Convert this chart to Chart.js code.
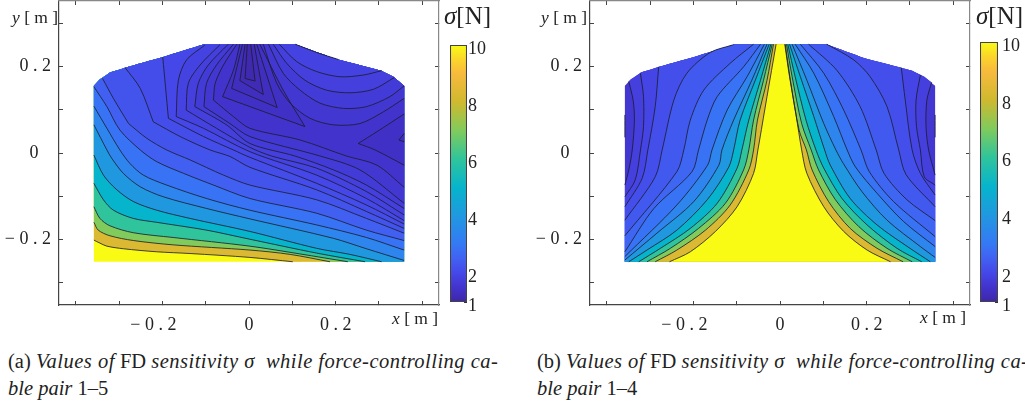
<!DOCTYPE html>
<html><head><meta charset="utf-8">
<script src="https://cdn.jsdelivr.net/npm/chart.js@4/dist/chart.umd.min.js"></script>
<style>
html,body{margin:0;padding:0;background:#fff;width:1025px;height:403px;overflow:hidden}
canvas{position:absolute}
.t{position:absolute;white-space:pre;font-family:"Liberation Serif",serif;color:#222;line-height:1}
.c{position:absolute;white-space:pre;font-family:"Liberation Serif",serif;color:#222;font-size:20.5px;line-height:1}
i{font-style:italic}
i.w{letter-spacing:.48px}
</style></head><body>
<canvas id="mapA" style="left:0;top:0"></canvas>
<canvas id="mapB" style="left:530px;top:0"></canvas>
<canvas id="barA" style="left:440px;top:30px"></canvas>
<canvas id="barB" style="left:970px;top:30px"></canvas>
<div class="t" style="left:12px;top:9px;font-size:17.5px"><i>y</i> [ m ]</div>
<div class="t" style="left:392px;top:310px;font-size:17.5px"><i>x</i> [ m ]</div>
<div class="t" style="left:444px;top:3px;font-size:25px"><i>σ</i>[N]</div>
<div class="t" style="left:541px;top:9px;font-size:17.5px"><i>y</i> [ m ]</div>
<div class="t" style="left:920px;top:309px;font-size:17.5px"><i>x</i> [ m ]</div>
<div class="t" style="left:976px;top:3px;font-size:25px"><i>σ</i>[N]</div>
<div class="c" style="left:8px;top:351px">(a) <i class="w">Values of</i> FD <i class="w">sensitivity σ  while force-controlling ca-</i></div>
<div class="c" style="left:8px;top:378px"><i>ble pair</i> 1–5</div>
<div class="c" style="left:537px;top:351px">(b) <i class="w">Values of</i> FD <i class="w">sensitivity σ  while force-controlling ca-</i></div>
<div class="c" style="left:537px;top:378px"><i>ble pair</i> 1–4</div>
<script>
// Tick positions and labels (metres, newton)
const tickValues=[-0.2,0,0.2];
const xTickLabels=['− 0 . 2\u2003','0','0 . 2'];
const yTickLabels=['− 0 . 2','0\u2002\u2009','0 . 2'];
const colorTicks=[1,2,4,6,8,10];
// Parula colour map sampled at sensitivity values
const cmapValues=[1,1.5,2,2.5,3,4,5,6,7,8,9,9.5,10];
const cmapColors=['#3e26a8','#4233cc','#4547e8','#4160f2','#3578f5','#2098e0','#06b4cc','#2fc49c','#80cb5c','#cfb92e','#f8ba3c','#fbd62a','#f9fb15'];
// Workspace outline [x,y] in mm
const workspace=[[-358,-251],[358,-251],[358,155],[333,176],[305,190],[197,218],[107,251],[-104,251],[-200,221],[-286,197],[-321,186],[-344,170],[-358,155]];

// Panel (a) iso-lines, mm (a repeated point is a sharp corner)
const a1=[[-358,-201],[-344,-208],[-328,-215],[-290,-221],[-213,-228],[-136,-232],[2,-241],[101,-251]];
const a2=[[-358,-160],[-348,-178],[-321,-191],[-267,-202],[-175,-212],[2,-224],[95,-234],[187,-251]];
const a3=[[-358,-124],[-344,-151],[-321,-168],[-267,-184],[-175,-195],[2,-215],[118,-233],[228,-251]];
const a4=[[-358,-70],[-336,-108],[-313,-132],[-267,-151],[-213,-160],[-98,-178],[2,-199],[156,-231],[268,-251]];
const a5=[[-358,-5],[-336,-51],[-305,-85],[-267,-112],[-213,-132],[-136,-151],[2,-181],[156,-220],[233,-234],[306,-251]];
const a6=[[-358,65],[-328,7],[-317,-12],[-290,-47],[-251,-78],[-198,-101],[-98,-128],[2,-152],[195,-197],[271,-221],[358,-248]];
const a7=[[-358,108],[-328,57],[-298,7],[-275,-24],[-244,-51],[-190,-74],[-98,-105],[2,-132],[156,-166],[271,-195],[358,-224]];
const a8=[[-358,153],[-328,107],[-298,53],[-251,7],[-213,-20],[-151,-47],[-82,-74],[2,-105],[156,-139],[271,-178],[358,-202]];
const a9=[[-338,172],[-313,126],[-278,68],[-278,68],[-236,34],[-190,7],[-136,-16],[-59,-51],[2,-74],[156,-108],[271,-151],[358,-185]];
const a10=[[-286,197],[-251,149],[-221,72],[-221,72],[-159,38],[-90,7],[-44,-8],[2,-33],[156,-85],[271,-135],[358,-174]];
const a11=[[-199,221],[-186,80],[-186,80],[-105,38],[-36,7],[2,-10],[156,-70],[271,-120],[358,-164]];
const a12=[[-102,249],[-144,215],[-163,168],[-168,84],[-168,84],[-105,57],[2,3],[156,-51],[271,-105],[358,-156]];
const a13=[[-67,250],[-113,203],[-140,161],[-145,99],[-145,99],[-75,57],[2,13],[52,-7],[156,-35],[271,-89],[358,-143]];
const a14=[[-48,251],[-94,203],[-117,161],[-125,107],[-125,107],[-52,65],[2,22],[106,-7],[195,-39],[271,-74],[358,-128]];
const a15=[[-36,251],[-75,203],[-98,161],[-104,107],[-104,107],[-44,68],[2,38],[164,-7],[256,-39],[358,-116]];
const a16=[[-28,251],[-59,203],[-78,161],[-82,122],[-82,122],[-36,84],[2,57],[118,30],[225,-7],[295,-28],[358,-79]];
const aArc0=[[107,251],[156,232],[206,216]];
const aArc1=[[70,251],[110,211],[156,188],[210,176],[264,180],[306,190]];
const aArc2=[[56,251],[87,207],[129,168],[179,145],[233,139],[287,147],[335,174]];
const aArc3=[[45,251],[79,184],[118,145],[164,115],[218,103],[271,107],[325,130],[358,155]];
const aArc4=[[33,251],[64,161],[95,115],[141,80],[195,65],[256,68],[310,95],[358,126]];
const aWedge4=[[-21,251],[-36,191],[-61,130],[-61,130],[129,61],[129,61],[79,145],[25,251]];
const aWedge3=[[-15,251],[-40,149],[-40,149],[65,105],[65,105],[18,251]];
const aWedge2=[[-9,251],[-21,167],[-21,167],[33,135],[33,135],[12,251]];
const aWedge1=[[-4,251],[-9,172],[-9,172],[14,166],[14,166],[4,251]];
const aTrough1=[[358,90],[295,49],[252,22],[252,22],[291,7],[358,-28]];
const aTrough2=[[358,45],[346,30],[346,30],[358,26]];
const aFillValues=[8.3,7,6,5,4,3.4,2.9,2.5,2.25,2.1,2,1.9,1.8,1.7,1.6,1.5,1.4,1.3,1.2,1.1,1.4,1.3];

// Panel (b) iso-lines, mm: left and right branch of each level
const bL1=[[-349,165],[-339,122],[-336,76],[-341,7],[-349,-39],[-358,-74]];
const bL2=[[-322,184],[-315,130],[-315,61],[-322,7],[-334,-62],[-358,-101]];
const bL3=[[-280,199],[-288,107],[-305,7],[-318,-58],[-358,-124]];
const bL4=[[-107,250],[-161,232],[-215,184],[-245,122],[-272,7],[-288,-55],[-358,-155]];
const bL5=[[-61,251],[-115,207],[-176,145],[-207,76],[-222,7],[-238,-43],[-358,-191]];
const bL6=[[-45,251],[-84,199],[-145,130],[-168,76],[-188,7],[-203,-43],[-291,-128],[-358,-228]];
const bL7=[[-36,251],[-76,176],[-122,99],[-157,7],[-167,-28],[-238,-120],[-358,-239]];
const bL8=[[-30,251],[-65,168],[-107,76],[-134,7],[-141,-28],[-199,-112],[-284,-185],[-358,-247]];
const bL9=[[-25,251],[-57,168],[-92,76],[-107,7],[-118,-32],[-168,-108],[-238,-178],[-307,-224],[-349,-251]];
const bL10=[[-21,251],[-45,168],[-72,76],[-88,7],[-99,-35],[-145,-116],[-207,-174],[-276,-220],[-326,-251]];
const bL11=[[-18,251],[-38,168],[-61,76],[-72,7],[-84,-39],[-126,-116],[-188,-174],[-253,-220],[-307,-251]];
const bL12=[[-15,251],[-30,168],[-52,76],[-61,7],[-72,-39],[-115,-120],[-172,-178],[-238,-224],[-288,-251]];
const bL13=[[-9,251],[-30,130],[-47,30],[-51,7],[-61,-47],[-99,-124],[-149,-181],[-207,-228],[-255,-251]];
const bR1=[[350,163],[339,122],[337,61],[343,7],[358,-51]];
const bR2=[[324,180],[314,122],[315,61],[324,7],[333,-55],[358,-74]];
const bR3=[[280,197],[289,122],[305,7],[324,-47],[358,-97]];
const bR4=[[108,251],[170,215],[208,176],[247,107],[274,7],[291,-50],[358,-124]];
const bR5=[[66,251],[131,191],[185,107],[222,7],[240,-47],[293,-108],[358,-156]];
const bR6=[[47,251],[101,184],[147,99],[187,7],[206,-43],[262,-112],[358,-193]];
const bR7=[[35,251],[78,184],[124,84],[155,7],[174,-32],[224,-93],[285,-158],[358,-216]];
const bR8=[[28,251],[62,168],[101,68],[129,7],[146,-24],[189,-89],[247,-155],[324,-216],[358,-241]];
const bR9=[[22,251],[47,176],[78,84],[103,7],[116,-28],[162,-105],[224,-166],[300,-220],[347,-251]];
const bR10=[[18,251],[35,176],[60,76],[83,7],[101,-35],[143,-105],[201,-166],[270,-220],[327,-251]];
const bR11=[[15,251],[28,176],[50,68],[72,7],[89,-39],[128,-108],[182,-170],[247,-220],[305,-251]];
const bR12=[[12,251],[24,168],[44,53],[61,7],[74,-39],[112,-112],[162,-174],[224,-220],[284,-251]];
const bR13=[[11,251],[22,176],[37,88],[50,7],[62,-47],[101,-124],[147,-181],[201,-224],[255,-251]];
const bEdgeL=[[-358,88],[-358,36]];
const bEdgeR=[[358,88],[358,36]];
const bFillValues=[1.8,1.95,2.15,2.35,2.6,2.9,3.4,4,5,6,7,8.3,10];

const hex=c=>[1,3,5].map(i=>parseInt(c.substr(i,2),16));
function colorOf(v){
  let i=0;while(i<cmapValues.length-2&&v>cmapValues[i+1])i++;
  const t=(v-cmapValues[i])/(cmapValues[i+1]-cmapValues[i]);
  const a=hex(cmapColors[i]),b=hex(cmapColors[i+1]);
  return 'rgb('+a.map((x,k)=>Math.round(x+(b[k]-x)*t)).join(',')+')';
}
// Position of a point along the workspace outline
function perim(p){
  const n=workspace.length;let best=1e12,s=0;
  for(let i=0;i<n;i++){
    const a=workspace[i],b=workspace[(i+1)%n],dx=b[0]-a[0],dy=b[1]-a[1];
    let t=((p[0]-a[0])*dx+(p[1]-a[1])*dy)/(dx*dx+dy*dy);t=Math.max(0,Math.min(1,t));
    const d=Math.hypot(a[0]+t*dx-p[0],a[1]+t*dy-p[1]);
    if(d<best){best=d;s=i+t}
  }
  return s;
}
function walk(p,q){
  const n=workspace.length,sa=perim(p);let sb=perim(q);if(sb<sa)sb+=n;
  const out=[];for(let i=Math.floor(sa)+1;i<sb;i++)out.push(workspace[i%n],workspace[i%n]);
  return out;
}
// A region: iso-lines joined around the outline; repeated vertices keep the outline straight
function region(lines){
  let pts=[];
  lines.forEach((l,i)=>{
    const nx=lines[(i+1)%lines.length],last=l[l.length-1];
    pts=pts.concat([l[0]],l,[last],walk(last,nx[0]));
  });
  return pts.concat([pts[0]]);
}
const rev=l=>l.slice().reverse();
const toXY=pts=>pts.map(p=>({x:p[0]/1000,y:p[1]/1000}));
const curve=0.3;
function fillSet(pts,v){return {type:'scatter',showLine:true,data:toXY(pts),fill:'shape',backgroundColor:colorOf(v),borderWidth:0,pointRadius:0,tension:curve}}
function lineSet(pts){return {type:'scatter',showLine:true,data:toXY(pts),fill:false,borderColor:'rgba(28,28,45,.82)',borderWidth:1,pointRadius:0,tension:curve}}

function frameScales(w,padL,padR){
  const lim={xMin:-0.4385,xMax:0.4385,yMin:-0.3508,yMax:0.3508};
  const font={family:'"Liberation Serif",serif',size:18};
  const findLabel=(v,arr)=>{const i=tickValues.findIndex(t=>Math.abs(t-v)<1e-6);return i<0?'':arr[i]};
  const grid={drawOnChartArea:false,drawTicks:true,tickLength:-4,tickColor:'#444',tickWidth:1};
  const fit=(prop,size)=>s=>{s[prop]=size;s.paddingLeft=s.paddingRight=s.paddingTop=s.paddingBottom=0};
  const base={type:'linear',grid};
  return {
    x:{...base,position:'bottom',min:lim.xMin,max:lim.xMax,afterFit:fit('height',35),border:{color:'#444',width:1.2},
       ticks:{stepSize:.1,includeBounds:false,autoSkip:false,maxRotation:0,padding:13,color:'#222',font,callback:v=>findLabel(v,xTickLabels)}},
    y:{...base,position:'left',min:lim.yMin,max:lim.yMax,afterFit:fit('width',padL),border:{color:'#444',width:1.2},
       ticks:{stepSize:.1,includeBounds:false,autoSkip:false,padding:12,color:'#222',font,callback:v=>findLabel(v,yTickLabels)}},
    xt:{...base,axis:'x',position:'top',min:lim.xMin,max:lim.xMax,afterFit:fit('height',1),border:{color:'#888',width:1.2},
       ticks:{stepSize:.1,includeBounds:false,autoSkip:false,display:false}},
    yr:{...base,axis:'y',position:'right',min:lim.yMin,max:lim.yMax,afterFit:fit('width',padR),border:{color:'#888',width:1.2},
       ticks:{stepSize:.1,includeBounds:false,autoSkip:false,display:false}}
  };
}
function mapChart(id,sets,w,padL,padR){
  const c=document.getElementById(id);c.width=w;c.height=340;
  sets.forEach((d,i)=>{d.order=sets.length-i});
  return new Chart(c,{type:'scatter',data:{datasets:sets},options:{
    responsive:false,animation:false,events:[],
    layout:{padding:0},
    plugins:{legend:{display:false},tooltip:{enabled:false}},
    scales:frameScales(w,padL,padR)}});
}
function barChart(id,w,h,padL,padR,padT,padB,labelGap){
  const c=document.getElementById(id);c.width=w;c.height=h;
  return new Chart(c,{type:'bar',data:{labels:['σ'],datasets:[{data:[[colorTicks[0],colorTicks[colorTicks.length-1]]],
    barPercentage:1,categoryPercentage:1,borderWidth:1.4,borderColor:'#444',borderSkipped:false,
    backgroundColor:ctx=>{
      const ch=ctx.chart,s=ch.scales.y;
      const y0=s?s.getPixelForValue(1):NaN,y1=s?s.getPixelForValue(10):NaN;
      if(!Number.isFinite(y0)||!Number.isFinite(y1))return cmapColors[0];
      const g=ch.ctx.createLinearGradient(0,y0,0,y1);
      cmapValues.forEach((v,i)=>g.addColorStop((v-1)/9,cmapColors[i]));return g}}]},
    options:{responsive:false,animation:false,events:[],
      layout:{padding:{left:padL,right:0,top:padT,bottom:padB}},
      plugins:{legend:{display:false},tooltip:{enabled:false}},
      scales:{
        x:{display:false},
        y:{position:'right',min:1,max:10,
           afterFit:s=>{s.width=padR;s.paddingTop=s.paddingBottom=0},
           afterBuildTicks:s=>{s.ticks=colorTicks.map(v=>({value:v}))},
           border:{display:false},
           grid:{drawOnChartArea:false,drawTicks:true,tickLength:-3,tickColor:'#333'},
           ticks:{padding:labelGap,labelOffset:4,autoSkip:false,color:'#222',font:{family:'"Liberation Serif",serif',size:18},callback:v=>String(v)}}
      }}});
}

const aLevels=[[a1],[a2],[a3],[a4],[a5],[a6],[a7],[a8],[a9],[a10],[a11],[a12,rev(aArc0)],[a13,rev(aArc1)],[a14,rev(aArc2)],[a15,rev(aArc3)],[a16,rev(aArc4)],[aWedge4],[aWedge3],[aWedge2],[aWedge1],[aTrough1],[aTrough2]];
const aLines=[a1,a2,a3,a4,a5,a6,a7,a8,a9,a10,a11,a12,a13,a14,a15,a16,aArc0,aArc1,aArc2,aArc3,aArc4,aWedge4,aWedge3,aWedge2,aWedge1,aTrough1,aTrough2];
const outline=[...workspace.flatMap(p=>[p,p]),workspace[0]];
const aSets=[fillSet(outline,10)]
  .concat(aLevels.map((l,i)=>fillSet(region(l),aFillValues[i])),aLines.map(lineSet));
mapChart('mapA',aSets,500,59,61);

const bLeft=[bL1,bL2,bL3,bL4,bL5,bL6,bL7,bL8,bL9,bL10,bL11,bL12,bL13];
const bRight=[bR1,bR2,bR3,bR4,bR5,bR6,bR7,bR8,bR9,bR10,bR11,bR12,bR13];
const bSets=[fillSet(outline,1.6)]
  .concat(bLeft.map((l,i)=>fillSet(region([l,rev(bRight[i])]),bFillValues[i])),
          bLeft.map(lineSet),bRight.map(lineSet),[lineSet(bEdgeL),lineSet(bEdgeR)]);
mapChart('mapB',bSets,495,60,55);

barChart('barA',70,290,10,43,15,18,4);
barChart('barB',55,290,10,27,12,18,7);
</script>
</body></html>
